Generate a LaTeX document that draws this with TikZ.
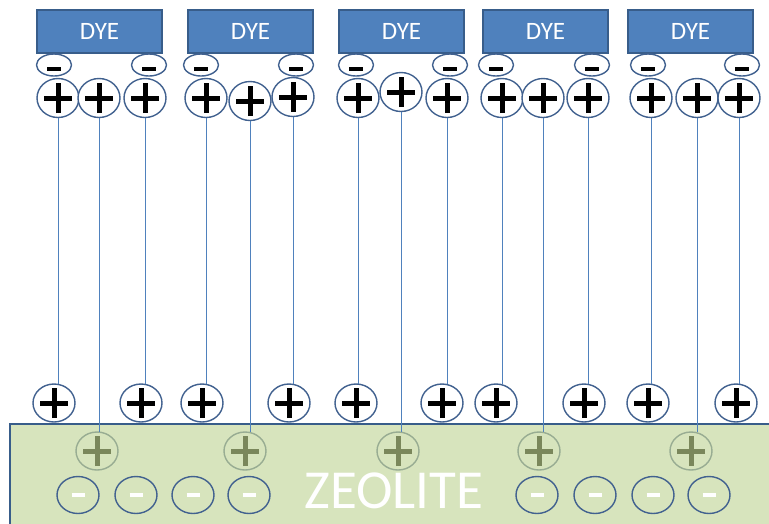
\documentclass[tikz,border=0pt]{standalone}
\usepackage{fontspec}
\setmainfont{Carlito}
\usetikzlibrary{shapes.geometric}
\definecolor{dyefill}{HTML}{4F81BD}
\definecolor{darkedge}{HTML}{385D8A}
\definecolor{ionedge}{HTML}{41618F}
\definecolor{wire}{HTML}{4F81BD}
\definecolor{zeofill}{HTML}{D7E4BD}
\definecolor{fadeedge}{HTML}{98AC92}
\definecolor{fadeplus}{HTML}{7A875B}
\begin{document}
\begin{tikzpicture}[x=1pt,y=-1pt,
  dyebox/.style={rectangle, draw=darkedge, line width=1.2pt, fill=dyefill,
    minimum width=125pt, minimum height=43pt, inner sep=0pt, text=white,
    font=\fontsize{25}{25}\selectfont},
  ion/.style={ellipse, inner sep=0pt, outer sep=0pt, line width=1.4pt},
  cation/.style={ion, draw=ionedge, fill=white, minimum width=42pt, minimum height=39pt,
    path picture={\draw[line width=5pt, black]
      ([xshift=-14pt]path picture bounding box.center) -- ++(28pt,0pt)
      ([yshift=-15pt]path picture bounding box.center) -- ++(0pt,30pt);}},
  anion/.style={ion, draw=ionedge, fill=white, minimum width=35pt, minimum height=22pt,
    path picture={\draw[line width=4.2pt, black]
      ([xshift=-7pt,yshift=-4pt]path picture bounding box.center) -- ++(14pt,0pt);}},
  fadecation/.style={ion, draw=fadeedge, minimum width=42pt, minimum height=38pt,
    path picture={\draw[line width=5pt, fadeplus]
      ([xshift=-14pt]path picture bounding box.center) -- ++(28pt,0pt)
      ([yshift=-15pt]path picture bounding box.center) -- ++(0pt,30pt);}},
  zanion/.style={ion, draw=ionedge, minimum width=42pt, minimum height=37pt,
    path picture={\draw[line width=4pt, white]
      ([xshift=-6.5pt]path picture bounding box.center) -- ++(13pt,0pt);}},
  wirestyle/.style={draw=wire, line width=1pt}
]
\useasboundingbox (0,0) rectangle (769,523);
\clip (0,0) rectangle (769,523);

% zeolite slab
\draw[fill=zeofill, draw=darkedge, line width=1.8pt] (10,424) rectangle (780,535);
\node[text=white, font=\fontsize{55}{55}\selectfont, anchor=base] (zeo) at (394,508) {ZEOLITE};

% dye molecules
\foreach \i/\x in {1/99.5, 2/250.5, 3/401.5, 4/545.5, 5/690.5}
  \node[dyebox] (dye\i) at (\x,31.5) {DYE};

% anions attached to the dyes
\foreach \i/\x in {1/54, 2/149, 3/201, 4/296, 5/356, 6/450, 7/496, 8/592, 9/648, 10/742}
  \node[anion] (a\i) at (\x,65) {};

% upper cations
\foreach \i/\x/\y in {1/58/98, 2/99/98, 3/145/98, 4/206/98, 5/250/101, 6/293/97,
    7/358/98, 8/401/92, 9/447/98, 10/502/98, 11/543/98, 12/588/98,
    13/651/98, 14/697/98, 15/739/98}
  \node[cation] (t\i) at (\x,\y) {};

% cations resting on the zeolite surface
\foreach \i/\x in {1/54, 2/141, 3/202, 4/289, 5/356, 6/442, 7/496, 8/584, 9/648, 10/736}
  \node[cation, minimum height=38pt] (b\i) at (\x,403) {};

% cations inside the zeolite
\foreach \i/\x in {1/97, 2/245, 3/398, 4/539, 5/691}
  \node[fadecation] (f\i) at (\x,451) {};

% framework anions
\foreach \i/\x in {1/78, 2/136, 3/193, 4/249, 5/537, 6/595, 7/653, 8/709}
  \node[zanion] (z\i) at (\x,495) {};

% vertical connectors from each upper cation down to its partner
\foreach \s/\e in {t1/b1, t2/f1, t3/b2, t4/b3, t5/f2, t6/b4, t7/b5, t8/f3,
    t9/b6, t10/b7, t11/f4, t12/b8, t13/b9, t14/f5, t15/b10}
  \draw[wirestyle] (\s.south) -- (\s.south |- \e.north);
\end{tikzpicture}
\end{document}
